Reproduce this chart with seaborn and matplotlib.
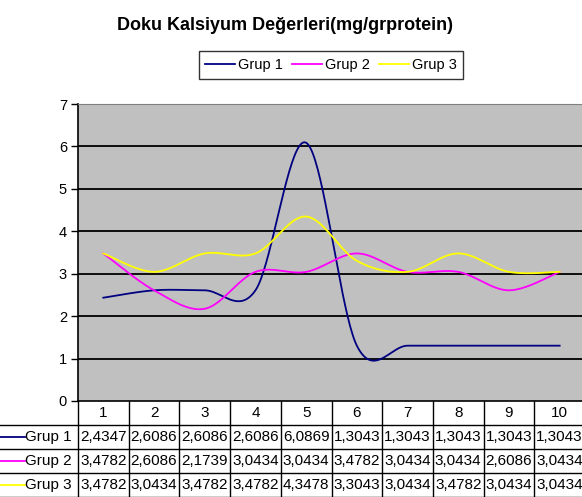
import numpy as np
import pandas as pd
import matplotlib
matplotlib.use("Agg")
import matplotlib.pyplot as plt
import seaborn as sns
from matplotlib.lines import Line2D

# data (data table under the plot)
categories = [1, 2, 3, 4, 5, 6, 7, 8, 9, 10]
grup1 = [2.4347, 2.6086, 2.6086, 2.6086, 6.0869, 1.3043, 1.3043, 1.3043, 1.3043, 1.3043]
grup2 = [3.4782, 2.6086, 2.1739, 3.0434, 3.0434, 3.4782, 3.0434, 3.0434, 2.6086, 3.0434]
grup3 = [3.4782, 3.0434, 3.4782, 3.4782, 4.3478, 3.3043, 3.0434, 3.4782, 3.0434, 3.0434]
series_names = ["Grup 1", "Grup 2", "Grup 3"]
colors = ["#000080", "#FF00FF", "#FFFF00"]
title = "Doku Kalsiyum Değerleri(mg/grprotein)"

plt.rcParams['font.family'] = ['Liberation Sans', 'DejaVu Sans']


def smooth(xs, ys, n=40):
    # Excel-like smoothed line: cubic Bezier with Catmull-Rom control points
    p = np.column_stack([xs, ys]).astype(float)
    pts = []
    for i in range(len(p) - 1):
        p0 = p[i - 1] if i > 0 else p[i]
        p1, p2 = p[i], p[i + 1]
        p3 = p[i + 2] if i + 2 < len(p) else p[i + 1]
        c1 = p1 + (p2 - p0) / 6
        c2 = p2 - (p3 - p1) / 6
        t = np.linspace(0, 1, n)[:, None]
        seg = (1 - t) ** 3 * p1 + 3 * (1 - t) ** 2 * t * c1 + 3 * (1 - t) * t ** 2 * c2 + t ** 3 * p2
        pts.append(seg if i == 0 else seg[1:])
    return np.vstack(pts)


frames = []
for name, vals in zip(series_names, [grup1, grup2, grup3]):
    s = smooth(categories, vals)
    frames.append(pd.DataFrame({"x": s[:, 0], "y": s[:, 1], "grup": name}))
df = pd.concat(frames, ignore_index=True)

fig = plt.figure(figsize=(5.82, 4.97), dpi=100)
W, H = 582, 497
left_px, top_px, bottom_px = 78, 104, 401
band = 50.7
ax = fig.add_axes([left_px / W, 1 - bottom_px / H, 10 * band / W, (bottom_px - top_px) / H])
ax.set_facecolor("#C0C0C0")

sns.lineplot(data=df, x="x", y="y", hue="grup", palette=colors, sort=False,
             estimator=None, linewidth=1.3, legend=False, ax=ax)

ax.set_xlim(0.5, 10.5)
ax.set_ylim(0, 7)
ax.set_yticks(range(0, 8))
ax.set_xticks([])
ax.set_xlabel("")
ax.set_ylabel("")
ax.grid(False)
for yv in range(1, 8):
    ax.axhline(yv, color="#000000", linewidth=1.3, zorder=0.5)
ax.tick_params(axis="y", direction="out", length=5, width=1, labelsize=10.5, pad=3, colors="black")
ax.spines["left"].set_color("black")
ax.spines["left"].set_linewidth(1.2)
ax.spines["bottom"].set_color("black")
ax.spines["bottom"].set_linewidth(1.2)
ax.spines["top"].set_color("#808080")
ax.spines["right"].set_visible(False)

# title and legend
fig.text(285 / W, 1 - 25 / H, title, ha="center", va="center", fontsize=13, fontweight="bold")
handles = [Line2D([0], [0], color=c, linewidth=1.3) for c in colors]
leg = fig.legend(handles, series_names, loc="center", bbox_to_anchor=(331 / W, 1 - 65 / H),
                 ncol=3, fontsize=10.5, frameon=True, fancybox=False, edgecolor="black",
                 handlelength=2.06, handletextpad=0.2, columnspacing=0.62, borderpad=0.45)
leg.get_frame().set_linewidth(1.0)

# data table below the plot
tax = fig.add_axes([left_px / W, 0, 10 * band / W, (H - bottom_px) / H])
tax.set_xlim(0.5, 10.5)
tax.set_ylim(0, 4)
tax.axis("off")
x_left = 0.5 - left_px / band
lc = dict(color="black", linewidth=1.0, clip_on=False)
for i in range(11):
    tax.plot([i + 0.5, i + 0.5], [0, 4], **lc)
for yv in [0, 1, 2, 3]:
    tax.plot([x_left, 10.5], [yv, yv], **lc)
for c in categories:
    tax.text(c, 3.5, str(c), ha="center", va="center", fontsize=11, clip_on=False)
rows = [grup1, grup2, grup3]
for r, (name, vals, col) in enumerate(zip(series_names, rows, colors)):
    yc = 2.5 - r
    tax.plot([x_left, x_left + 25 / band], [yc, yc], color=col, linewidth=1.3, clip_on=False)
    tax.text(x_left + 72 / band, yc, name, ha="right", va="center", fontsize=11, clip_on=False)
    for c, v in zip(categories, vals):
        tax.text(c, yc, f"{v:.4f}".replace(".", ","), ha="center", va="center",
                 fontsize=11, clip_on=False)

fig.savefig("out.png", dpi=100, facecolor="white")
